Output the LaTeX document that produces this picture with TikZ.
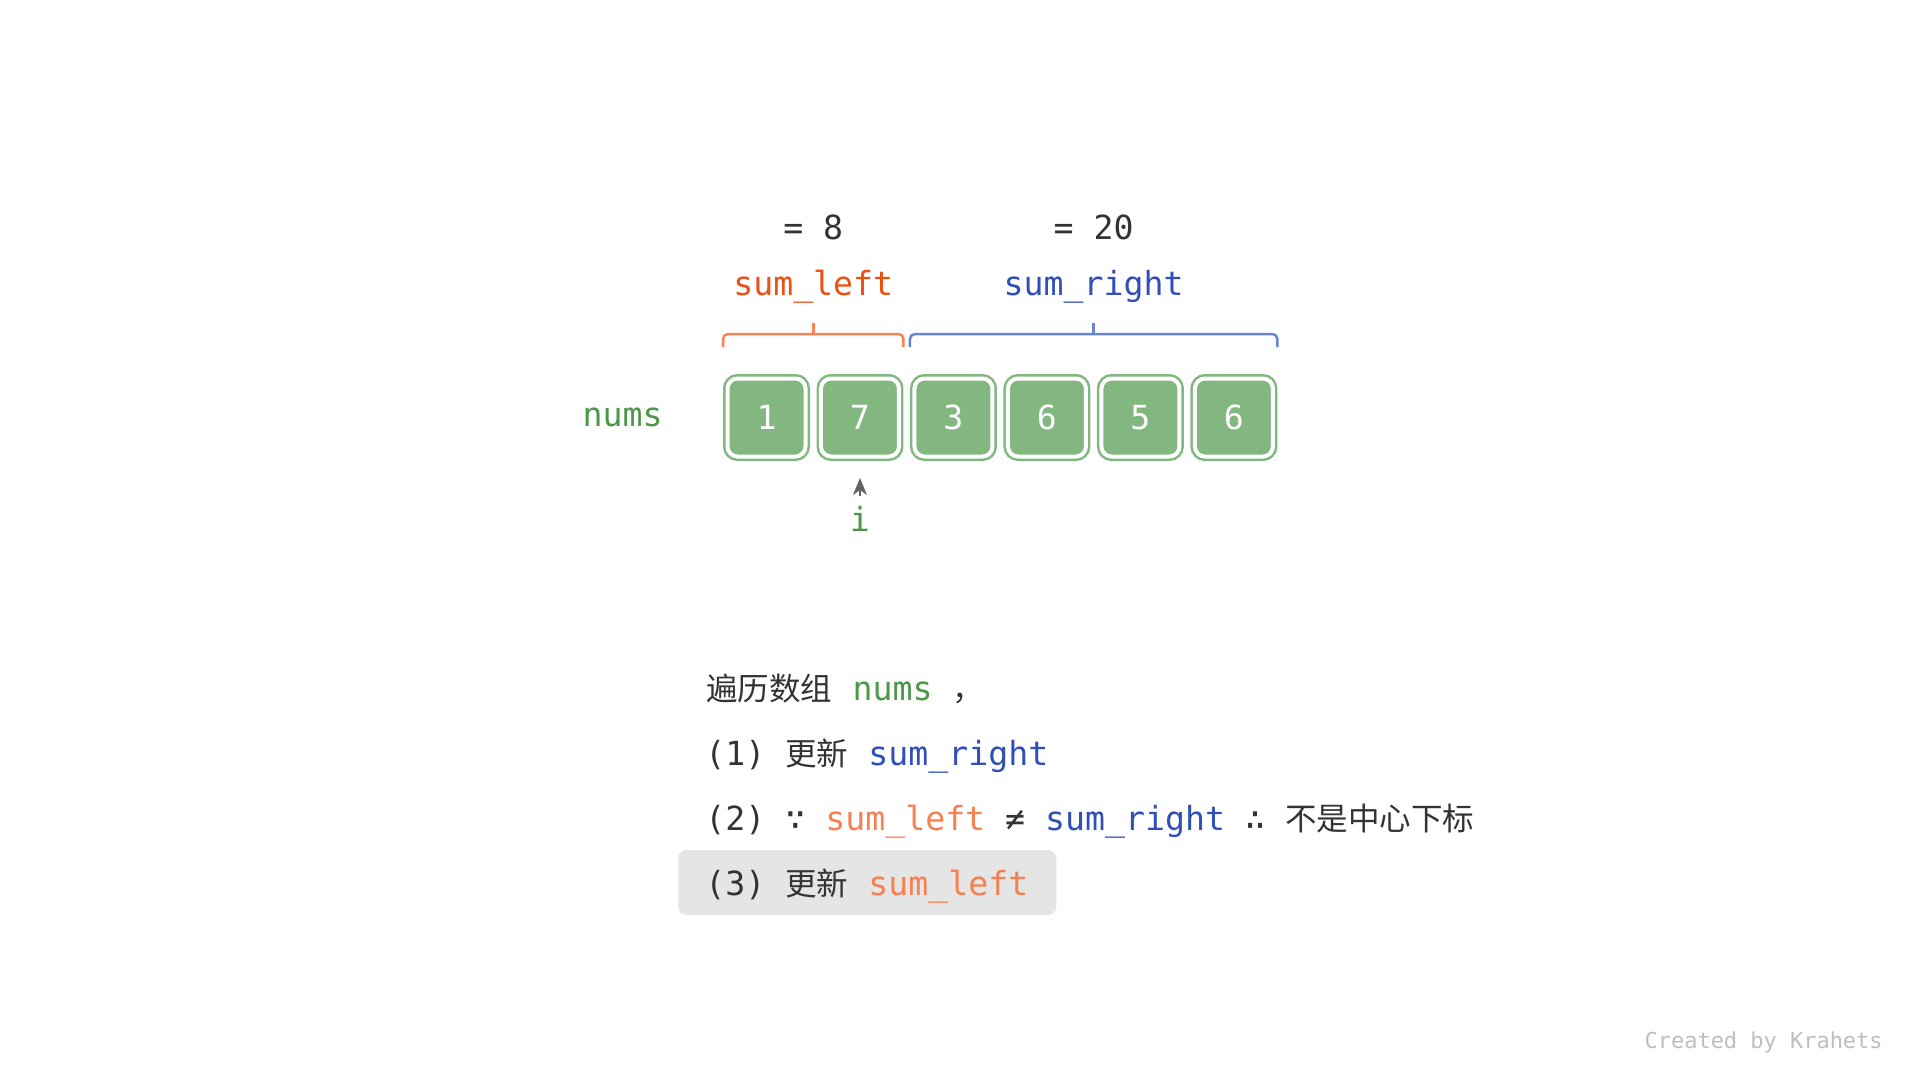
\documentclass[tikz,border=0pt]{standalone}
\usepackage{fontspec}
\setmainfont{DejaVu Sans Mono}
\newfontfamily\cjk[Scale=0.95]{Noto Sans CJK SC}
\usepackage{tikz}
\usetikzlibrary{arrows.meta,positioning,calc}
\usepackage{xcolor}
\definecolor{boxgreen}{RGB}{130,184,128}
\definecolor{labelgreen}{RGB}{76,152,72}
\definecolor{leftred}{RGB}{235,80,20}
\definecolor{leftorange}{RGB}{246,128,80}
\definecolor{rightblue}{RGB}{48,80,184}
\definecolor{braceorange}{RGB}{255,128,84}
\definecolor{braceblue}{RGB}{104,132,214}
\definecolor{textdark}{RGB}{51,51,51}
\definecolor{arrowgray}{RGB}{100,100,100}
\definecolor{hlgray}{RGB}{229,229,229}
\definecolor{creditgray}{RGB}{190,190,190}
\newcommand{\codefont}{\fontsize{18.9}{22}\selectfont}

\begin{document}
\begin{tikzpicture}[
    x=0.02cm, y=-0.02cm,
    cell/.style={rectangle, draw=boxgreen, fill=boxgreen, double=white, double distance=0.08cm, line width=0.05cm, rounded corners=0.2cm, minimum width=1.56cm, minimum height=1.56cm, inner sep=0pt, outer sep=0.09cm, text=white, font=\codefont},
    lbl/.style={inner sep=0pt, font=\codefont},
    brace/.style={line width=0.05cm, rounded corners=0.1cm},
    ptr/.style={-{Stealth[length=0.34cm, width=0.28cm, inset=0.1cm]}, draw=arrowgray, line width=0.04cm},
    stepline/.style={anchor=base west, inner sep=0pt, text=textdark, font=\codefont},
    hlbox/.style={rectangle, fill=hlgray, rounded corners=0.16cm, minimum width=7.56cm, minimum height=1.3cm}
]
    \useasboundingbox (0,0) rectangle (1920,1080);

    % Array nums
    \node[cell] (c1) at (766.5,417.5) {1};
    \node[cell, right=0.13cm of c1] (c2) {7};
    \node[cell, right=0.13cm of c2] (c3) {3};
    \node[cell, right=0.13cm of c3] (c4) {6};
    \node[cell, right=0.13cm of c4] (c5) {5};
    \node[cell, right=0.13cm of c5] (c6) {6};
    \node[lbl, text=labelgreen, left=1.2cm of c1] (nums) {nums};

    % Left brace
    \draw[brace, draw=braceorange] ([yshift=0.54cm]c1.north west) -- ++(0,0.26cm) -| ([yshift=0.54cm]c2.north east);
    \coordinate (ltick) at ($(c1.north west)!0.5!(c2.north east)+(0,0.8cm)$);
    \draw[brace, draw=braceorange] (ltick) -- ++(0,0.22cm) coordinate (ltop);
    \node[lbl, text=leftred, above=0.38cm of ltop] (sumL) {sum\_left};
    \node[lbl, text=textdark, above=0.6cm of sumL] (eqL) {= 8};

    % Right brace
    \draw[brace, draw=braceblue] ([yshift=0.54cm]c3.north west) -- ++(0,0.26cm) -| ([yshift=0.54cm]c6.north east);
    \coordinate (rtick) at ($(c3.north west)!0.5!(c6.north east)+(0,0.8cm)$);
    \draw[brace, draw=braceblue] (rtick) -- ++(0,0.22cm) coordinate (rtop);
    \node[lbl, text=rightblue, above=0.38cm of rtop] (sumR) {sum\_right};
    \node[lbl, text=textdark, above=0.6cm of sumR] (eqR) {= 20};

    % Pointer i
    \node[lbl, text=labelgreen, below=0.9cm of c2] (iptr) {i};
    \draw[ptr] ([yshift=0.2cm]iptr.north) -- ([yshift=-0.34cm]c2.south);

    % Steps
    \node[hlbox, anchor=west] (hl) at (678,882.5) {};
    \node[stepline] (s1) at (706,700) {{\cjk 遍历数组} \textcolor{labelgreen}{nums} {\cjk ，}};
    \node[stepline] (s2) at (705,765) {(1) {\cjk 更新} \textcolor{rightblue}{sum\_right}};
    \node[stepline] (s3) at (705,830) {(2) ∵ \textcolor{leftorange}{sum\_left} ≠ \textcolor{rightblue}{sum\_right} ∴ {\cjk 不是中心下标}};
    \node[stepline] (s4) at (705,895) {(3) {\cjk 更新} \textcolor{leftorange}{sum\_left}};

    % Credit
    \node[anchor=base east, inner sep=0pt, text=creditgray, font=\fontsize{12.5}{15}\selectfont] (credit) at (1883,1048) {Created by Krahets};
\end{tikzpicture}
\end{document}
